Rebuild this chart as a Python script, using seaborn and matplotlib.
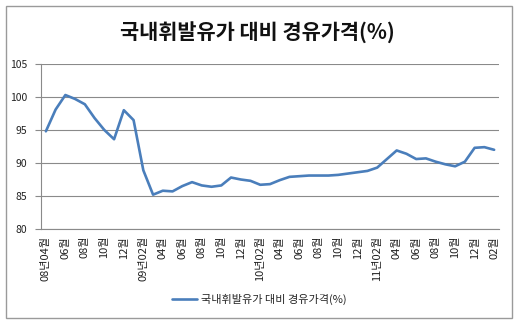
import matplotlib
matplotlib.use("Agg")
import matplotlib.pyplot as plt
import matplotlib.patches as mpatches
import seaborn as sns
import numpy as np
import pandas as pd

# Monthly diesel price relative to gasoline (%), 2008-04 .. 2012-02
months = pd.period_range("2008-04", "2012-02", freq="M").astype(str).tolist()
ratio = [94.8, 98.1, 100.3, 99.7, 98.9, 96.8, 95.0, 93.6, 98.0, 96.5,
         88.9, 85.2, 85.8, 85.7, 86.5, 87.1, 86.6, 86.4, 86.6, 87.8,
         87.5, 87.3, 86.7, 86.8, 87.4, 87.9, 88.0, 88.1, 88.1, 88.1,
         88.2, 88.4, 88.6, 88.8, 89.3, 90.6, 91.9, 91.4, 90.6, 90.7,
         90.2, 89.8, 89.5, 90.2, 92.3, 92.4, 92.0]
tick_labels = ["08년04월", "06월", "08월", "10월", "12월",
               "09년02월", "04월", "06월", "08월", "10월", "12월",
               "10년02월", "04월", "06월", "08월", "10월", "12월",
               "11년02월", "04월", "06월", "08월", "10월", "12월",
               "02월"]
y_ticks = [80, 85, 90, 95, 100, 105]

series_name = "국내휘발유가 대비 경유가격(%)"

sns.set_theme(style="white")
plt.rcParams["font.family"] = ["Noto Sans CJK KR", "DejaVu Sans"]

df = pd.DataFrame({"pos": np.arange(len(months)), "month": months, "ratio": ratio})

fig = plt.figure(figsize=(5.2, 3.22), dpi=100)
ax = fig.add_axes([41 / 520, 1 - 229 / 322, (499 - 41) / 520, (229 - 64) / 322])

grid_c = "#8a8a8a"
sns.lineplot(data=df, x="pos", y="ratio", ax=ax, color="#4A7EBB",
             linewidth=1.9, label=series_name, legend=False)

ax.set_xlim(-0.5, len(months) - 0.5)
ax.set_ylim(80, 105)
ax.set_yticks(y_ticks)
ax.set_yticklabels([str(v) for v in y_ticks], fontsize=7.5, color="#222222")
ax.yaxis.grid(True, color=grid_c, linewidth=0.8)
ax.xaxis.grid(False)

label_pos = df["pos"].tolist()[::2]
ax.set_xticks(label_pos)
ax.set_xticklabels(tick_labels, rotation=90, fontsize=8, color="#222222")
ax.set_xticks(np.arange(-0.5, len(months)), minor=True)
ax.tick_params(axis="x", which="major", length=0, pad=5)
ax.tick_params(axis="x", which="minor", length=4, color=grid_c, width=0.8, direction="out")
ax.tick_params(axis="y", which="major", length=4, color=grid_c, width=0.8, direction="out", pad=6, left=True)
ax.set_xlabel("")
ax.set_ylabel("")

for side in ("top", "right"):
    ax.spines[side].set_visible(False)
for side in ("left", "bottom"):
    ax.spines[side].set_color(grid_c)
    ax.spines[side].set_linewidth(0.8)

fig.text(257 / 520, 1 - 33 / 322, series_name, ha="center", va="center",
         fontsize=15, fontweight="bold", color="#111111")

handles, labels = ax.get_legend_handles_labels()
fig.legend(handles, labels, loc="center", bbox_to_anchor=(259 / 520, 1 - 299 / 322),
           frameon=False, fontsize=8, handlelength=2.3, handletextpad=0.3)

fig.patches.append(mpatches.Rectangle((6 / 520, 1 - 317.5 / 322), 505.5 / 520, 311.5 / 322,
                                      transform=fig.transFigure, fill=False,
                                      edgecolor="#9a9a9a", linewidth=1.0))

fig.savefig("out.png", dpi=100)
